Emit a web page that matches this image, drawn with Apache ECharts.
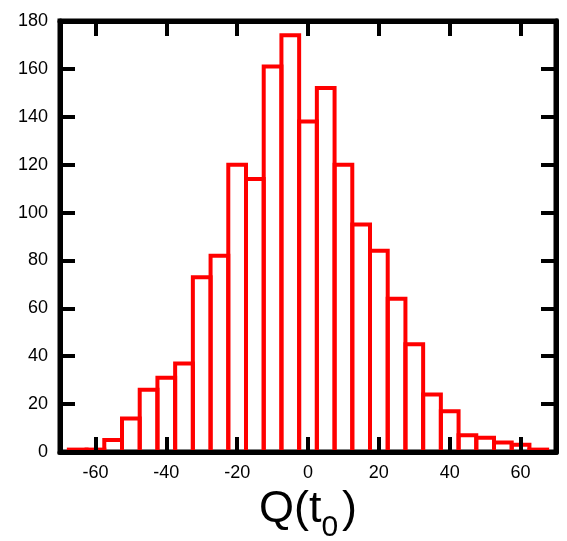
<!DOCTYPE html>
<html>
<head>
    <meta charset="utf-8">
    <title>Q(t0) histogram</title>
    <style>
        html,body{
        width:100%;
        height:100%;
        overflow:hidden;
        padding:0;
        margin:0;
        background:#fff;
        }
        #main{
        width:567px;height:541px;
        }
    </style>
    <script src="https://cdn.jsdelivr.net/npm/echarts@6/dist/echarts.min.js"></script>
</head>
<body>
<div id="main"></div>

<script type="text/javascript">

    // bin centres (width 5) and counts
    var binCenters = [-65, -60, -55, -50, -45, -40, -35, -30, -25, -20, -15, -10, -5, 0,
                      5, 10, 15, 20, 25, 30, 35, 40, 45, 50, 55, 60, 65];
    var counts = [1, 1, 5, 14, 26, 31, 37, 73, 82, 120, 114, 161, 174, 138,
                  152, 120, 95, 84, 64, 45, 24, 17, 7, 6, 4, 3, 1];
    var binWidth = 5;
    var xTicks = [-60, -40, -20, 0, 20, 40, 60];

    var font = 'Liberation Sans';

    var data = [];
    for (var i = 0; i < binCenters.length; i++) {
        data.push([binCenters[i], counts[i]]);
    }

    var myChart = echarts.init(document.getElementById('main'));

    var frameLine = {show: true, onZero: false, lineStyle: {color: '#000', width: 5}};
    var tickIn = {show: true, inside: true, length: 15, lineStyle: {color: '#000', width: 4}};

    var option = {
        animation: false,
        backgroundColor: '#fff',
        grid: {
            left: 60, right: 11, top: 21, bottom: 89,
            outerBoundsMode: 'none',
            show: true, borderColor: '#000', borderWidth: 5
        },
        xAxis: [{
            type: 'value', min: -70, max: 70, position: 'bottom', z: 5,
            axisLine: frameLine,
            axisTick: Object.assign({customValues: xTicks}, tickIn),
            axisLabel: {customValues: xTicks, color: '#000', fontSize: 18, fontFamily: font, margin: 12},
            splitLine: {show: false},
            name: '{q|Q(t}{s|0}{q|)}',
            nameLocation: 'middle',
            nameGap: 22,
            nameTextStyle: {
                rich: {
                    q: {fontSize: 45, fontFamily: font, color: '#000', verticalAlign: 'top', lineHeight: 45},
                    s: {fontSize: 30, fontFamily: font, color: '#000', verticalAlign: 'top', lineHeight: 30, padding: [26, 4, 0, 0]}
                }
            }
        }, {
            type: 'value', min: -70, max: 70, position: 'top', z: 5,
            axisLine: frameLine,
            axisTick: Object.assign({customValues: xTicks}, tickIn),
            axisLabel: {show: false},
            splitLine: {show: false}
        }],
        yAxis: [{
            type: 'value', min: 0, max: 180, interval: 20, position: 'left', z: 5,
            axisLine: frameLine,
            axisTick: tickIn,
            axisLabel: {color: '#000', fontSize: 18, fontFamily: font, margin: 12},
            splitLine: {show: false}
        }, {
            type: 'value', min: 0, max: 180, interval: 20, position: 'right', z: 5,
            axisLine: frameLine,
            axisTick: tickIn,
            axisLabel: {show: false},
            splitLine: {show: false}
        }],
        series: [{
            type: 'custom',
            z: 1,
            clip: true,
            xAxisIndex: 0,
            yAxisIndex: 0,
            data: data,
            renderItem: function (params, api) {
                var c = api.value(0), v = api.value(1);
                var p0 = api.coord([c - binWidth / 2, v]);
                var p1 = api.coord([c + binWidth / 2, 0]);
                return {
                    type: 'rect',
                    shape: {x: p0[0], y: p0[1], width: p1[0] - p0[0], height: p1[1] - p0[1]},
                    style: {fill: 'transparent', stroke: '#ff0000', lineWidth: 4}
                };
            }
        }]
    };

    myChart.setOption(option);

</script>
</body>
</html>
